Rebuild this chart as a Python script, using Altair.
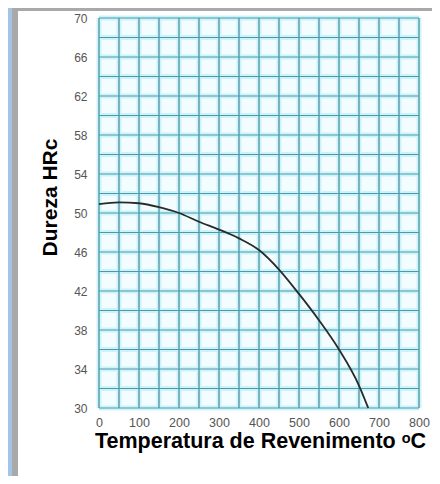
import altair as alt
import pandas as pd

# Curve: tempering temperature (°C) vs hardness (HRc)
temps = [0, 50, 100, 150, 200, 250, 300, 350, 400, 450, 500, 550, 600, 650, 673]
hrc = [50.9, 51.1, 51.0, 50.6, 50.0, 49.1, 48.3, 47.4, 46.2, 44.2, 41.7, 39.0, 36.0, 32.3, 30.0]

# Axis labels and grid
x_labels = [0, 100, 200, 300, 400, 500, 600, 700, 800]
y_labels = [30, 34, 38, 42, 46, 50, 54, 58, 62, 66, 70]
x_grid = list(range(0, 801, 50))
y_grid = list(range(30, 71, 2))

curve = pd.DataFrame({"t": temps, "h": hrc})
xg = pd.DataFrame({"t": x_grid})
yg = pd.DataFrame({"h": y_grid})

FONT = "Liberation Sans, Arial, DejaVu Sans, sans-serif"

xs = alt.Scale(domain=[0, 800], nice=False, zero=False)
ys = alt.Scale(domain=[30, 70], nice=False, zero=False)

x_axis = alt.Axis(
    values=x_labels,
    grid=False,
    ticks=False,
    domain=False,
    zindex=5,
    labelColor="#555555",
    labelFont=FONT,
    labelFontSize=12.5,
    labelPadding=8,
    labelOverlap=False,
    labelFlush=False,
    title="Temperatura de Revenimento ᵒC",
    titleFont=FONT,
    titleFontSize=21.5,
    titleFontWeight="bold",
    titleColor="#000000",
    titleBaseline="alphabetic",
    titleX=161,
    titleY=39,
)
y_axis = alt.Axis(
    values=y_labels,
    grid=False,
    ticks=False,
    domain=False,
    zindex=5,
    labelColor="#555555",
    labelFont=FONT,
    labelFontSize=12,
    labelPadding=12,
    labelOverlap=False,
    labelFlush=False,
    title="Dureza HRc",
    titleFont=FONT,
    titleFontSize=21,
    titleFontWeight="bold",
    titleColor="#000000",
    titleAngle=270,
    titleAlign="center",
    titleBaseline="alphabetic",
    titleX=-43,
    titleY=179,
)

frame = alt.Chart(alt.Data(values=[{"k": 1}])).mark_rect(color="#a9a9a9").encode(
    x=alt.value(-87), x2=alt.value(345), y=alt.value(-13), y2=alt.value(470)
)
panel = alt.Chart(alt.Data(values=[{"k": 1}])).mark_rect(color="#ffffff").encode(
    x=alt.value(-81), x2=alt.value(337), y=alt.value(-7), y2=alt.value(470)
)
plotbg = alt.Chart(alt.Data(values=[{"k": 1}])).mark_rect(color="#f3fdff").encode(
    x=alt.value(0), x2=alt.value(320), y=alt.value(0), y2=alt.value(390)
)

vhalo = alt.Chart(xg).mark_rule(color="#cdf3fa", strokeWidth=5).encode(
    x=alt.X("t:Q", scale=xs, axis=x_axis)
)
hhalo = alt.Chart(yg).mark_rule(color="#cdf3fa", strokeWidth=5).encode(
    y=alt.Y("h:Q", scale=ys, axis=y_axis)
)
vline = alt.Chart(xg).mark_rule(color="#347f8e", strokeWidth=1.1).encode(
    x=alt.X("t:Q", scale=xs, axis=x_axis)
)
hline = alt.Chart(yg).mark_rule(color="#4a9aab", strokeWidth=1.1).encode(
    y=alt.Y("h:Q", scale=ys, axis=y_axis)
)

line = alt.Chart(curve).mark_line(
    color="#2a2a2a", strokeWidth=1.8, interpolate="monotone"
).encode(
    x=alt.X("t:Q", scale=xs, axis=x_axis),
    y=alt.Y("h:Q", scale=ys, axis=y_axis),
)

chart = alt.layer(
    frame, panel, plotbg, vhalo, hhalo, vline, hline, line
).properties(
    width=320,
    height=390,
    autosize=alt.AutoSizeParams(type="none"),
    padding={"left": 91, "top": 10, "right": 13, "bottom": 68},
    background="#a4c4e7",
).configure_view(stroke=None)

chart.save("out.html", embed_options={"renderer": "svg", "actions": False})
